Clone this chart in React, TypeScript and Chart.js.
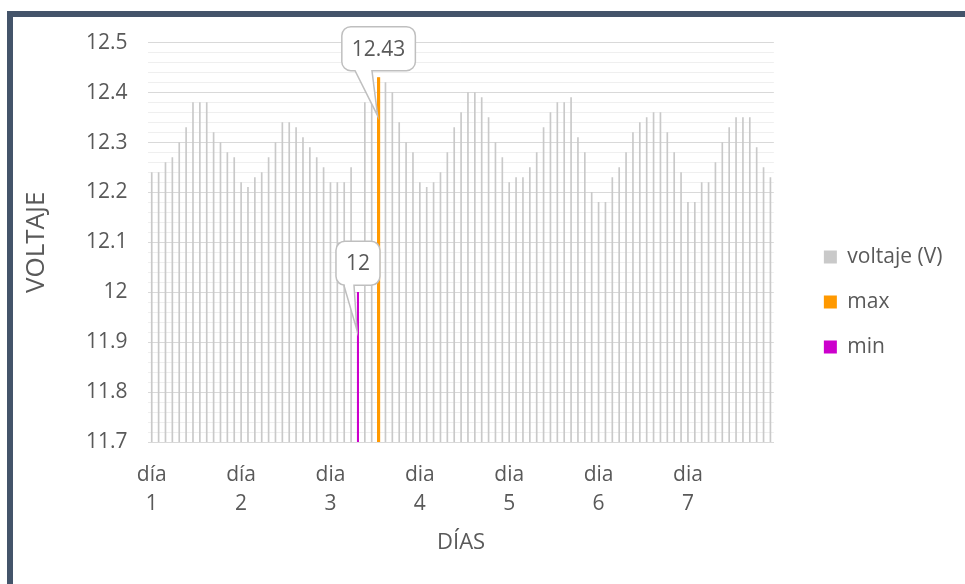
import React, { useEffect, useRef } from 'react';
import { Chart, registerables } from 'chart.js';

Chart.register(...registerables);

// ---------- data ----------
const dayLabels = ['día 1', 'día 2', 'dia 3', 'dia 4', 'dia 5', 'dia 6', 'dia 7'];
const readingsPerDay = 13;
const voltage = [
  12.24, 12.24, 12.26, 12.27, 12.30, 12.33, 12.38, 12.38, 12.38, 12.32, 12.30, 12.28, 12.27,
  12.22, 12.21, 12.23, 12.24, 12.27, 12.30, 12.34, 12.34, 12.33, 12.31, 12.29, 12.27, 12.25,
  12.22, 12.22, 12.22, 12.25, 12.00, 12.38, 12.38, 12.43, 12.42, 12.40, 12.34, 12.30, 12.28,
  12.22, 12.21, 12.22, 12.24, 12.28, 12.33, 12.36, 12.40, 12.40, 12.39, 12.35, 12.30, 12.27,
  12.22, 12.23, 12.23, 12.25, 12.28, 12.33, 12.36, 12.38, 12.38, 12.39, 12.31, 12.28,
  12.20, 12.18, 12.18, 12.23, 12.25, 12.28, 12.32, 12.34, 12.35, 12.36, 12.36, 12.32, 12.28,
  12.24, 12.18, 12.18, 12.22, 12.22, 12.26, 12.30, 12.33, 12.35, 12.35, 12.35, 12.29, 12.25, 12.23,
];
const seriesNames = ['voltaje (V)', 'max', 'min'];
const seriesColors = ['#c9c9c9', '#ff9900', '#cc00cc'];
const yMin = 11.7;
const yMax = 12.5;
const yMajorStep = 0.1;
const yMinorStep = 0.02;
const xTitle = 'DÍAS';
const yTitle = 'VOLTAJE';

// ---------- derived ----------
const categories = voltage.map((_, i) =>
  i % readingsPerDay === 0 ? dayLabels[i / readingsPerDay] : ''
);
const maxV = Math.max(...voltage);
const minV = Math.min(...voltage);
const maxSeries = voltage.map((v) => (v === maxV ? v : null));
const minSeries = voltage.map((v) => (v === minV ? v : null));

const FONT = '"Open Sans", sans-serif';
const TEXT = '#595959';

const isMajor = (v: number) => Math.abs(v / yMajorStep - Math.round(v / yMajorStep)) < 1e-6;

const calloutPlugin = {
  id: 'callouts',
  afterDatasetsDraw(chart: any) {
    const ctx = chart.ctx as CanvasRenderingContext2D;
    [1, 2].forEach((di) => {
      const meta = chart.getDatasetMeta(di);
      const ds = chart.data.datasets[di];
      ds.data.forEach((v: number | null, i: number) => {
        if (v == null) return;
        const el = meta.data[i];
        const x = el.x;
        const top = el.y;
        const text = String(v);
        ctx.save();
        ctx.font = `21px ${FONT}`;
        const tw = ctx.measureText(text).width;
        const w = tw + 20;
        const h = 44;
        const left = x - w / 2;
        const bottom = top - 7;
        const topY = bottom - h;
        const r = 9;
        const b1 = left + 0.18 * w;
        const b2 = left + 0.41 * w;
        const tipX = x - 1;
        const tipY = top + 38;
        ctx.beginPath();
        ctx.moveTo(left + r, topY);
        ctx.lineTo(left + w - r, topY);
        ctx.arcTo(left + w, topY, left + w, topY + r, r);
        ctx.lineTo(left + w, bottom - r);
        ctx.arcTo(left + w, bottom, left + w - r, bottom, r);
        ctx.lineTo(b2, bottom);
        ctx.lineTo(tipX, tipY);
        ctx.lineTo(b1, bottom);
        ctx.lineTo(left + r, bottom);
        ctx.arcTo(left, bottom, left, bottom - r, r);
        ctx.lineTo(left, topY + r);
        ctx.arcTo(left, topY, left + r, topY, r);
        ctx.closePath();
        ctx.fillStyle = '#ffffff';
        ctx.fill();
        ctx.strokeStyle = '#bfbfbf';
        ctx.lineWidth = 1.5;
        ctx.stroke();
        ctx.fillStyle = TEXT;
        ctx.textAlign = 'center';
        ctx.textBaseline = 'middle';
        ctx.fillText(text, left + w / 2, topY + h / 2 + 1);
        ctx.restore();
      });
    });
  },
};

export default function App() {
  const ref = useRef<HTMLCanvasElement>(null);
  useEffect(() => {
    const chart = new Chart(ref.current as HTMLCanvasElement, {
      type: 'bar',
      data: {
        labels: categories,
        datasets: [
          {
            label: seriesNames[0],
            data: voltage,
            backgroundColor: seriesColors[0],
            borderWidth: 0,
            barThickness: 1,
            grouped: false,
            order: 1,
            yAxisID: 'y',
          },
          {
            label: seriesNames[1],
            data: maxSeries,
            backgroundColor: seriesColors[1],
            borderWidth: 0,
            barThickness: 2.5,
            grouped: false,
            order: 0,
            yAxisID: 'y',
          },
          {
            label: seriesNames[2],
            data: minSeries,
            backgroundColor: seriesColors[2],
            borderWidth: 0,
            barThickness: 1.4,
            grouped: false,
            order: 0,
            yAxisID: 'y',
          },
        ] as any,
      },
      options: {
        responsive: false,
        animation: false,
        devicePixelRatio: 1,
        events: [],
        layout: { padding: { top: 42.7, bottom: 22.7, left: 14, right: 12.6 } },
        plugins: {
          tooltip: { enabled: false },
          legend: {
            position: 'right',
            align: 'center',
            labels: {
              font: { family: FONT, size: 21 },
              color: TEXT,
              boxWidth: 13,
              boxHeight: 13,
              padding: 24,
              sort: (a: any, b: any) => a.datasetIndex - b.datasetIndex,
            },
          },
        },
        scales: {
          x: {
            type: 'category',
            grid: { display: false },
            border: { display: true, color: '#d9d9d9', width: 1 },
            ticks: {
              autoSkip: false,
              maxRotation: 0,
              minRotation: 0,
              padding: 10.5,
              color: TEXT,
              font: { family: FONT, size: 21, lineHeight: 1.38 },
              callback: (_v: any, i: number) => {
                const l = categories[i];
                return l ? l.split(' ') : '';
              },
            },
            title: {
              display: true,
              text: xTitle,
              color: TEXT,
              font: { family: FONT, size: 22 },
              padding: { top: 0, bottom: 5.7 },
            },
            afterFit: (s: any) => {
              s.height = 119.3;
            },
          },
          y: {
            type: 'linear',
            position: 'left',
            min: yMin,
            max: yMax,
            border: { display: false },
            grid: {
              drawTicks: false,
              lineWidth: 1,
              color: (c: any) => (c.tick && isMajor(c.tick.value) ? '#d9d9d9' : '#efefef'),
            },
            ticks: {
              stepSize: yMinorStep,
              autoSkip: false,
              padding: 20.8,
              color: TEXT,
              font: { family: FONT, size: 21 },
              callback: (v: any) => (isMajor(Number(v)) ? String(Number(Number(v).toFixed(1))) : ''),
            },
            title: {
              display: true,
              text: yTitle,
              color: TEXT,
              font: { family: FONT, size: 26 },
              padding: { top: 7.4, bottom: 0 },
            },
            afterFit: (s: any) => {
              s.width = 148.3 - 14;
            },
          },
          pad: {
            type: 'linear',
            position: 'right',
            display: true,
            grid: { display: false },
            border: { display: false },
            ticks: { display: false },
            afterFit: (s: any) => {
              s.width = 26;
            },
          },
        },
      } as any,
      plugins: [calloutPlugin],
    });
    return () => chart.destroy();
  }, []);

  return (
    <div
      style={{
        position: 'fixed',
        left: 0,
        top: 0,
        width: 965,
        height: 584,
        overflow: 'hidden',
        background: '#ffffff',
      }}
    >
      <canvas
        ref={ref}
        width={965}
        height={584}
        style={{ position: 'absolute', left: 0, top: 0, width: 965, height: 584 }}
      />
      <div
        style={{
          position: 'absolute',
          left: 7,
          top: 11,
          width: 1100,
          height: 800,
          border: '6px solid #44546a',
          boxSizing: 'border-box',
          pointerEvents: 'none',
        }}
      />
    </div>
  );
}
